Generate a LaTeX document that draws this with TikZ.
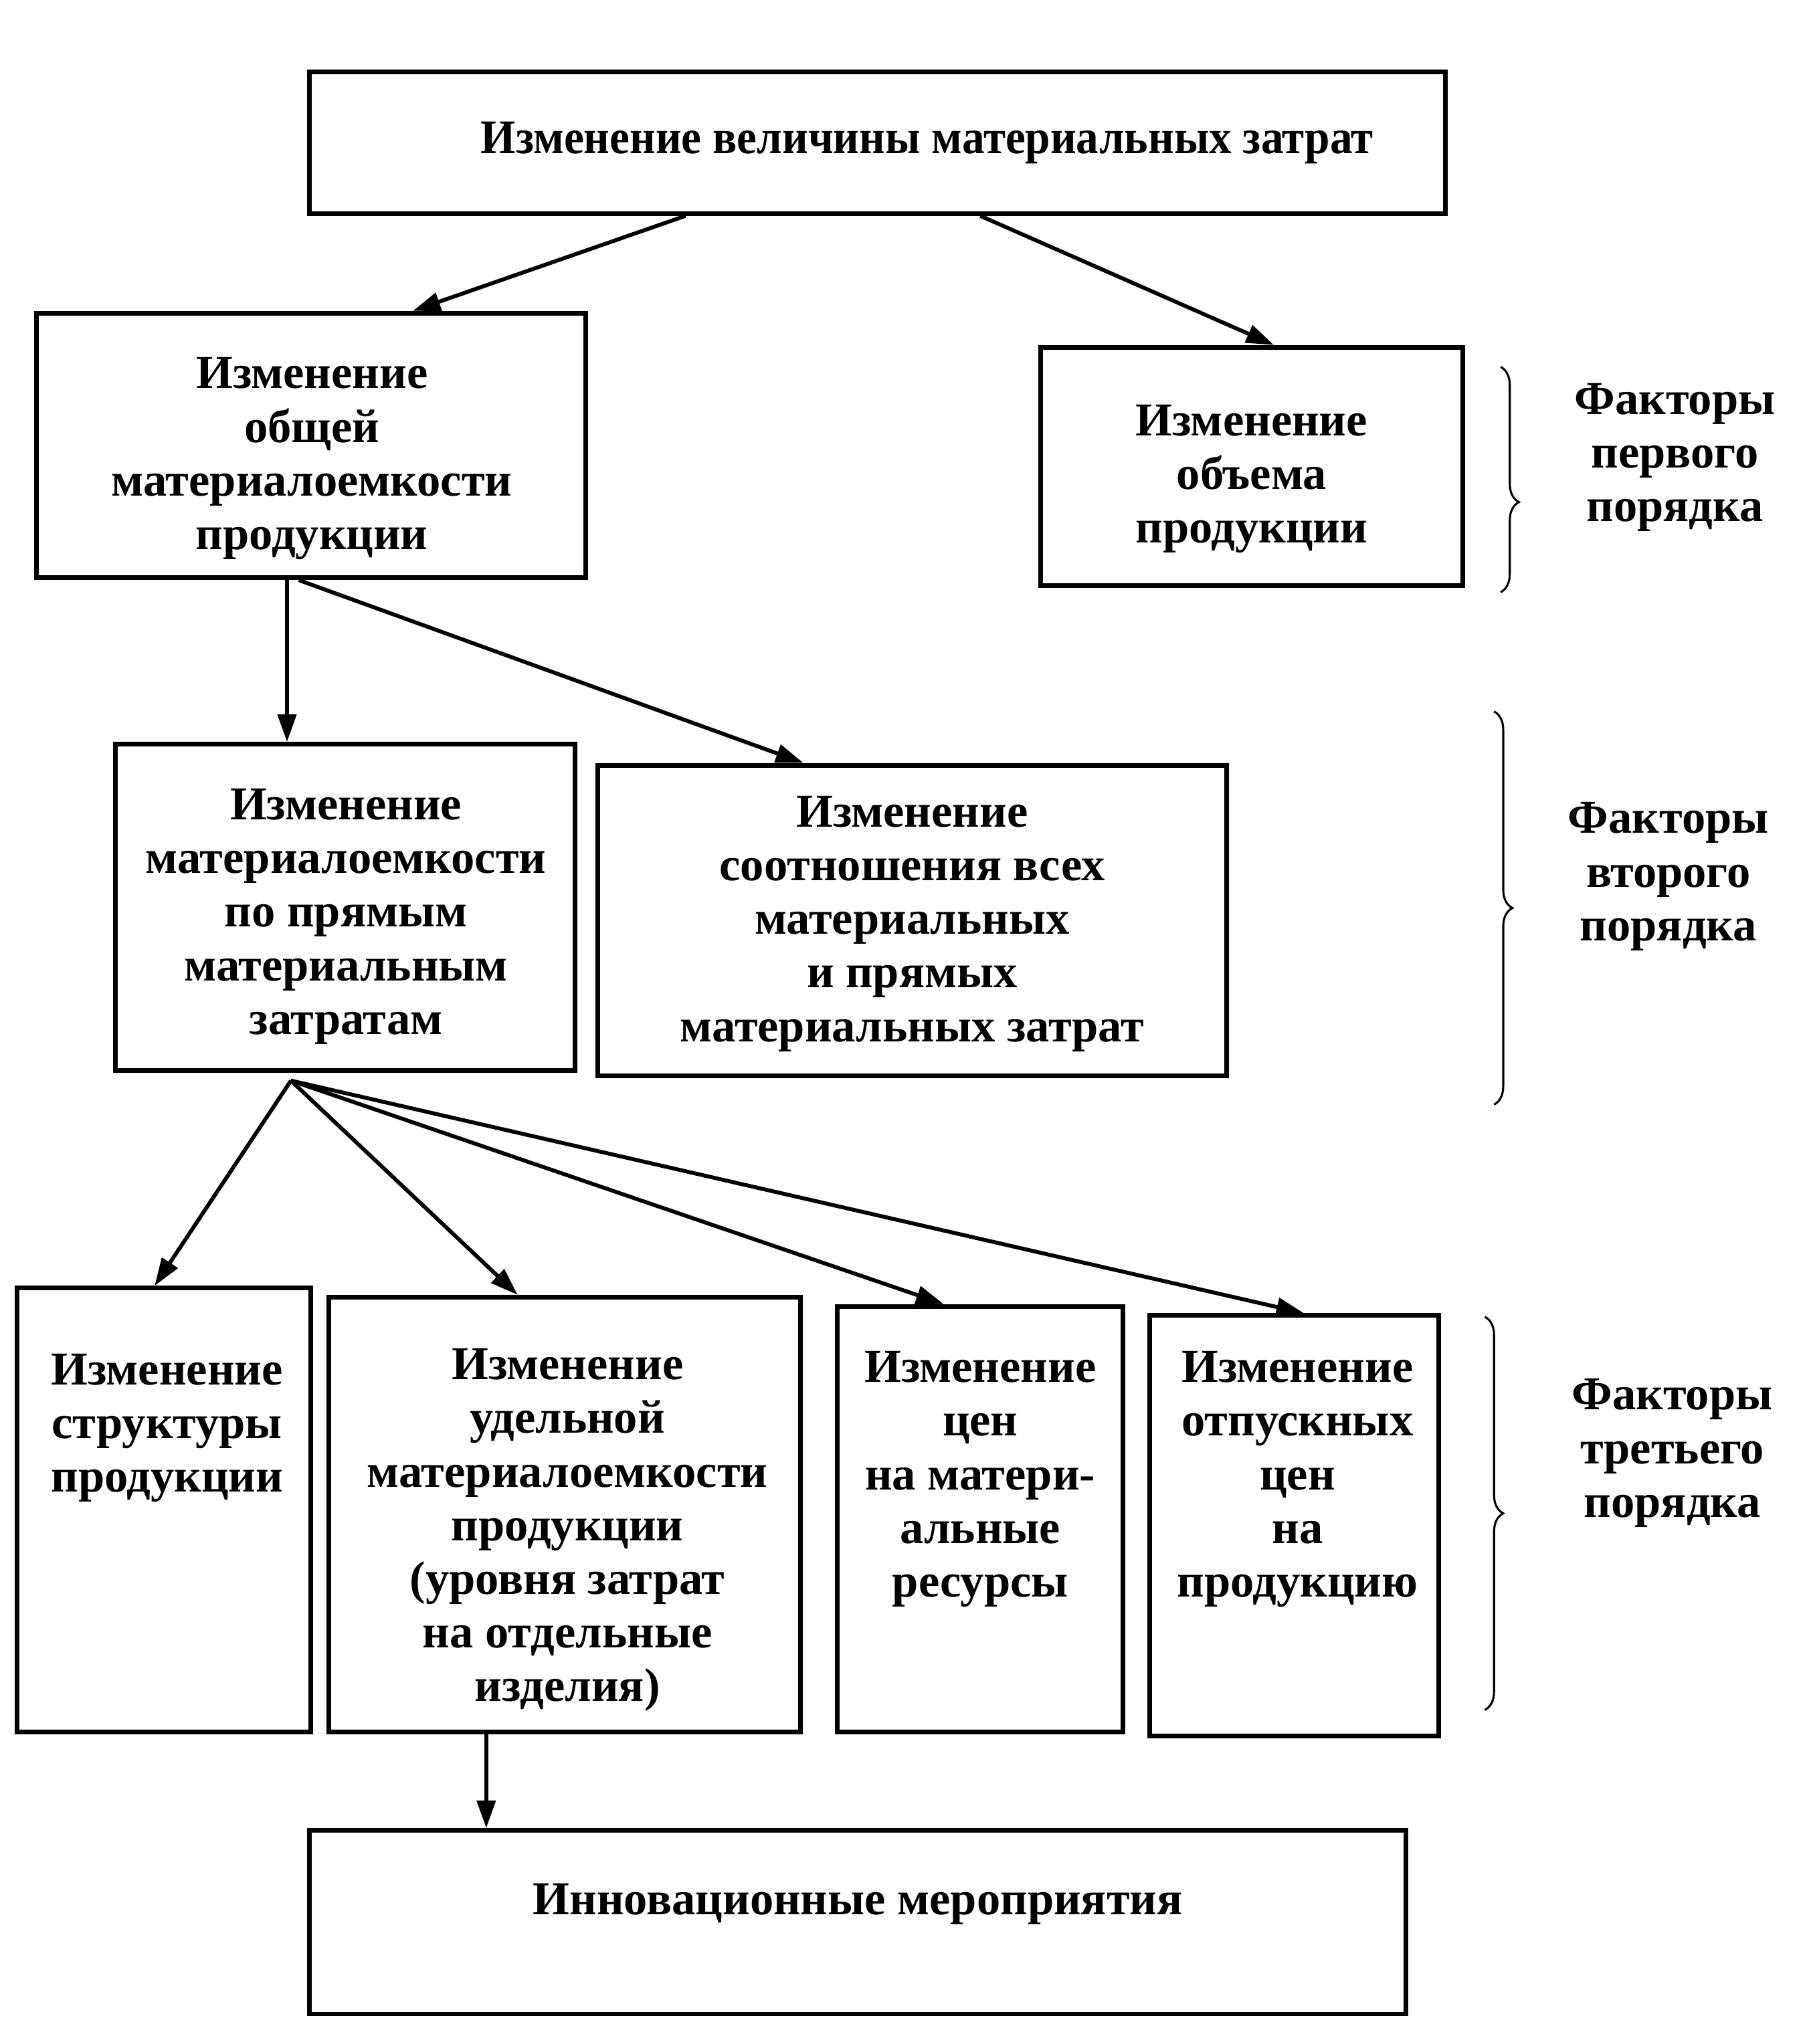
\documentclass[tikz,border=0pt]{standalone}
\usepackage{fontspec}
\setmainfont{Liberation Serif}
\newfontfamily\titlefont{Liberation Serif}[FakeStretch=0.93]
\usetikzlibrary{arrows.meta,decorations.pathreplacing,calc}
\begin{document}
\begin{tikzpicture}[x=0.02cm,y=-0.02cm,
 box/.style={draw, line width=2pt, inner sep=0pt, align=center, font=\bfseries\fontsize{20.5}{23.3}\selectfont},
 txt/.style={inner sep=0pt, align=center, font=\bfseries\fontsize{20.5}{23.3}\selectfont},
 arr/.style={line width=1.7pt, -{Triangle[length=12pt,width=8pt]}},
 brc/.style={decorate, decoration={brace, amplitude=0.28cm}, line width=0.9pt}]
\useasboundingbox (0,0) rectangle (1380,1560);
% boxes
\node[box, minimum width=17.34cm, minimum height=2.16cm, font=\titlefont\bfseries\fontsize{21}{23.3}\selectfont] (top) at (669.5,109) {\hspace*{1.52cm}Изменение величины материальных затрат};
\node[box, minimum width=8.38cm, minimum height=4.04cm] (A) at (237.5,340) {};
\node[box, minimum width=6.44cm, minimum height=3.64cm] (B) at (955,356) {};
\node[box, minimum width=7.02cm, minimum height=4.98cm] (C) at (263.5,692.5) {};
\node[box, minimum width=9.6cm, minimum height=4.74cm] (D) at (696,702.5) {};
\node[box, minimum width=4.48cm, minimum height=6.78cm] (E) at (125,1152.5) {};
\node[box, minimum width=7.2cm, minimum height=6.64cm] (F) at (431,1156) {};
\node[box, minimum width=4.36cm, minimum height=6.5cm] (G) at (748,1159.5) {};
\node[box, minimum width=4.42cm, minimum height=6.42cm] (H) at (987.5,1164.5) {};
\node[box, minimum width=16.74cm, minimum height=2.8cm] (I) at (654.5,1467) {};
% texts
\node[txt] (At) at (238,350) {Изменение\\общей\\материалоемкости\\продукции};
\node[txt] (Bt) at (955,365.5) {Изменение\\объема\\продукции};
\node[txt] (Ct) at (264,699.5) {Изменение\\материалоемкости\\по прямым\\материальным\\затратам};
\node[txt] (Dt) at (696,705) {Изменение\\соотношения всех\\материальных\\и прямых\\материальных затрат};
\node[txt] (It) at (654.5,1453) {Инновационные мероприятия};
\node[txt, anchor=north] (Et) at (127.5,1033) {Изменение\\структуры\\продукции};
\node[txt, anchor=north] (Ft) at (433,1029) {Изменение\\удельной\\материалоемкости\\продукции\\(уровня затрат\\на отдельные\\изделия)};
\node[txt, anchor=north] (Gt) at (748,1031) {Изменение\\цен\\на матери-\\альные\\ресурсы};
\node[txt, anchor=north] (Ht) at (990,1031) {Изменение\\отпускных\\цен\\на\\продукцию};
% braces and labels
\draw[brc, decoration={aspect=0.6}] (1145,280) -- (1145,452);
\draw[brc] (1140,543) -- (1140,843);
\draw[brc] (1133,1005) -- (1133,1305);
\node[txt] (L1) at (1278,349) {Факторы\\первого\\порядка};
\node[txt] (L2) at (1273,669) {Факторы\\второго\\порядка};
\node[txt] (L3) at (1276,1109) {Факторы\\третьего\\порядка};
% arrows
\draw[arr] ([xshift=-2.93cm]top.south) -- ([xshift=1.55cm]A.north);
\draw[arr] ([xshift=1.57cm]top.south) -- ([xshift=0.34cm]B.north);
\coordinate (a3) at ([xshift=-0.37cm]A.south);
\draw[arr] (a3) -- (a3 |- C.north);
\draw[arr] ([xshift=-0.19cm]A.south) -- ([xshift=-1.66cm]D.north);
\coordinate (fan) at ([xshift=-0.83cm,yshift=-0.12cm]C.south);
\draw[arr] (fan) -- ([xshift=-0.14cm]E.north);
\draw[arr] (fan) -- ([xshift=-0.72cm]F.north);
\draw[arr] (fan) -- ([xshift=-0.56cm]G.north);
\draw[arr] (fan) -- ([xshift=0.15cm]H.north);
\coordinate (f1) at ([xshift=-1.2cm]F.south);
\draw[arr] (f1) -- (f1 |- I.north);
\end{tikzpicture}
\end{document}
